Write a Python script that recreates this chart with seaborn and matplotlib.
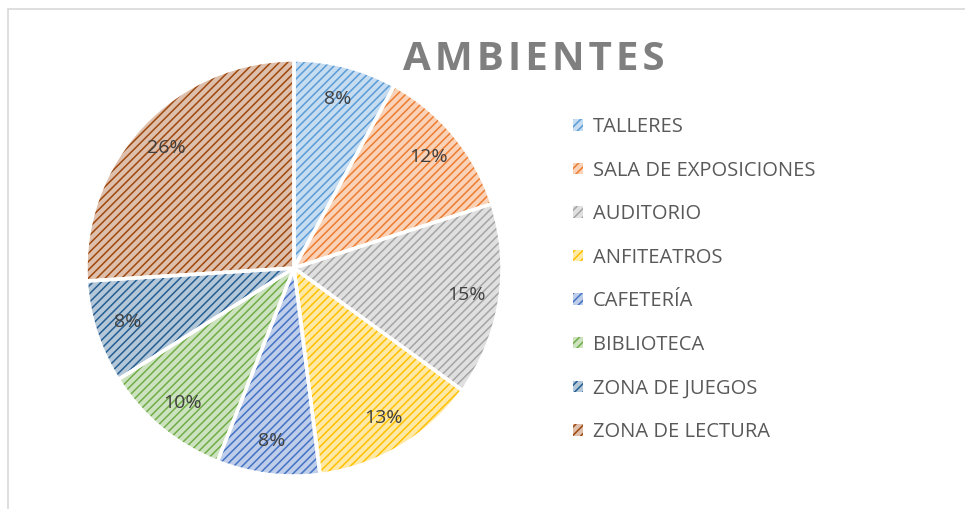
import seaborn as sns
import matplotlib.pyplot as plt
from matplotlib.patches import Patch, Rectangle
from matplotlib.colors import to_rgb

categories = ["TALLERES", "SALA DE EXPOSICIONES", "AUDITORIO", "ANFITEATROS",
              "CAFETERÍA", "BIBLIOTECA", "ZONA DE JUEGOS", "ZONA DE LECTURA"]
values = [8, 12, 15, 13, 8, 10, 8, 26]
colors = ["#5B9BD5", "#ED7D31", "#A5A5A5", "#FFC000",
          "#4472C4", "#70AD47", "#255E91", "#9E480E"]

sns.set_theme(style="white")
plt.rcParams['font.family'] = ['Open Sans', 'DejaVu Sans']
plt.rcParams['hatch.linewidth'] = 1.1


def lighten(c, k=0.65):
    r, g, b = to_rgb(c)
    return (r + (1 - r) * k, g + (1 - g) * k, b + (1 - b) * k)


light = [lighten(c) for c in colors]

fig = plt.figure(figsize=(9.65, 5.09), dpi=100)

# chart frame
fig.patches.append(Rectangle((8 / 965, -0.1), 1.2, (509 - 9) / 509 + 0.1,
                             transform=fig.transFigure, fill=False,
                             edgecolor="#D9D9D9", linewidth=1.2))

cx, cy, r = 294, 268, 208
ax = fig.add_axes([(cx - r) / 965, (509 - cy - r) / 509, 2 * r / 965, 2 * r / 509])

# hatched wedges
wedges, texts, autotexts = ax.pie(values, colors=light, startangle=90, counterclock=False,
                                  autopct=lambda p: f"{p:.0f}%", pctdistance=0.84,
                                  wedgeprops=dict(linewidth=0),
                                  textprops=dict(color="#404040", fontsize=14))
for w, c in zip(wedges, colors):
    w.set_hatch("////")
    w.set_edgecolor(c)
    w.set_linewidth(0)

# white separators
ax.pie(values, colors=["none"] * len(values), startangle=90, counterclock=False,
       wedgeprops=dict(linewidth=2.5, edgecolor="white"))
ax.set_xlim(-1, 1)
ax.set_ylim(-1, 1)
for t in autotexts:
    t.set_zorder(5)

fig.text(534 / 965, 1 - 59 / 509, "A M B I E N T E S".replace(" ", "\u200a"),
         ha="center", va="center", fontsize=29, fontweight="bold", color="#7F7F7F")

handles = [Patch(facecolor=l, edgecolor=c, hatch="////", linewidth=0) for l, c in zip(light, colors)]
fig.legend(handles, categories, loc="upper left", bbox_to_anchor=(563 / 965, 1 - 107 / 509),
           frameon=False, fontsize=14.5, labelcolor="#595959", handlelength=0.5,
           handleheight=0.5, handletextpad=0.5, labelspacing=1.17, borderpad=0)

fig.savefig("out.png", dpi=100)
